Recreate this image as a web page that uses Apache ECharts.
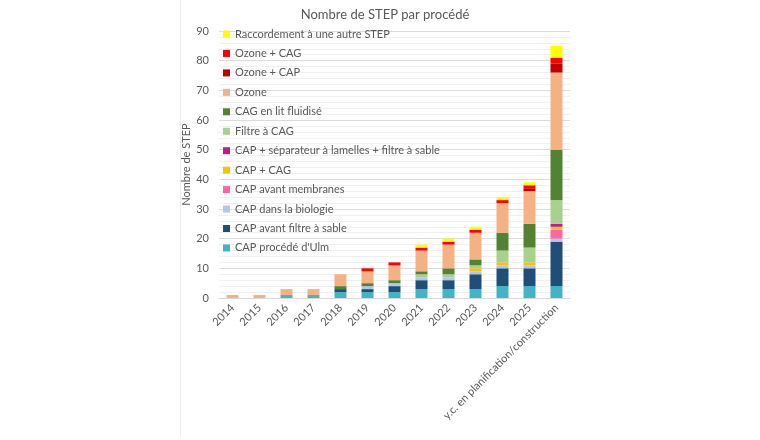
<!DOCTYPE html>
<html>
<head>
<meta charset="utf-8">
<script src="https://cdn.jsdelivr.net/npm/echarts@6/dist/echarts.min.js"></script>
<style>
  html, body { margin: 0; padding: 0; background: #fff; }
  #main { width: 760px; height: 440px; }
</style>
</head>
<body>
<div id="main"></div>
<script>
// catégories (années)
var categories = ['2014', '2015', '2016', '2017', '2018', '2019', '2020', '2021', '2022', '2023', '2024', '2025', 'y.c. en planification/construction'];

// valeurs par procédé (du bas vers le haut de la pile)
var capUlm        = [0, 0, 1, 1, 2, 2, 2, 3, 3, 3, 4, 4, 4];
var capFiltreSable = [0, 0, 0, 0, 1, 1, 2, 3, 3, 5, 6, 6, 15];
var capBiologie   = [0, 0, 0, 0, 0, 1, 1, 1, 1, 1, 1, 1, 1];
var capMembranes  = [0, 0, 0, 0, 0, 0, 0, 0, 0, 0, 0, 0, 3];
var capCag        = [0, 0, 0, 0, 0, 0, 0, 0, 0, 1, 1, 1, 1];
var capSeparateur = [0, 0, 0, 0, 0, 0, 0, 0, 0, 0, 0, 0, 1];
var filtreCag     = [0, 0, 0, 0, 0, 0, 0, 1, 1, 1, 4, 5, 8];
var cagLitFluidise = [0, 0, 0, 0, 1, 1, 1, 1, 2, 2, 6, 8, 17];
var ozone         = [1, 1, 2, 2, 4, 4, 5, 7, 8, 9, 10, 11, 26];
var ozoneCap      = [0, 0, 0, 0, 0, 0, 0, 0, 0, 0, 0, 1, 3];
var ozoneCag      = [0, 0, 0, 0, 0, 1, 1, 1, 1, 1, 1, 1, 2];
var raccordement  = [0, 0, 0, 0, 0, 0, 0, 1, 1, 1, 1, 1, 4];

var yTicks = [0, 10, 20, 30, 40, 50, 60, 70, 80, 90];

var seriesDefs = [
  ["CAP procédé d'Ulm", capUlm, '#3FB5C5'],
  ['CAP avant filtre à sable', capFiltreSable, '#1F4E79'],
  ['CAP dans la biologie', capBiologie, '#B4C7E7'],
  ['CAP avant membranes', capMembranes, '#FF66A3'],
  ['CAP + CAG', capCag, '#FFC000'],
  ['CAP + séparateur à lamelles + filtre à sable', capSeparateur, '#BE1E8C'],
  ['Filtre à CAG', filtreCag, '#A9D18E'],
  ['CAG en lit fluidisé', cagLitFluidise, '#548235'],
  ['Ozone', ozone, '#F4B183'],
  ['Ozone + CAP', ozoneCap, '#C00000'],
  ['Ozone + CAG', ozoneCag, '#FF0000'],
  ['Raccordement à une autre STEP', raccordement, '#FFFF00']
];

var font = 'Lato, "Open Sans", sans-serif';
var textColor = '#595959';

var myChart = echarts.init(document.getElementById('main'));

var option = {
  animation: false,
  backgroundColor: '#fff',
  textStyle: { fontFamily: font },
  title: {
    text: 'Nombre de STEP par procédé',
    left: 380,
    textAlign: 'center',
    top: 3,
    textStyle: { fontFamily: font, fontSize: 13, fontWeight: 'normal', color: textColor }
  },
  graphic: [{
    type: 'line',
    shape: { x1: 180.5, y1: 0, x2: 180.5, y2: 438 },
    style: { stroke: '#EDEDED', lineWidth: 1 },
    silent: true,
    z: -10
  }],
  legend: {
    orient: 'vertical',
    left: 218,
    top: 22,
    itemWidth: 7,
    itemHeight: 7,
    itemGap: 5.45,
    icon: 'rect',
    data: seriesDefs.map(function (d) { return d[0]; }).reverse(),
    textStyle: { fontFamily: font, fontSize: 11, lineHeight: 14, color: textColor, padding: [0, 0, 0, 0] }
  },
  grid: { left: 219, right: 190, top: 31, bottom: 142, containLabel: false },
  xAxis: {
    type: 'category',
    data: categories,
    axisLine: { lineStyle: { color: '#D9D9D9', width: 1 } },
    axisTick: { show: false },
    axisLabel: { rotate: 45, color: textColor, fontSize: 11, fontFamily: font, margin: 8, interval: 0 }
  },
  yAxis: {
    type: 'value',
    min: yTicks[0],
    max: yTicks[yTicks.length - 1],
    interval: 10,
    name: 'Nombre de STEP',
    nameLocation: 'middle',
    nameGap: 24,
    nameTextStyle: { color: textColor, fontSize: 11, fontFamily: font },
    axisLine: { show: false },
    axisTick: { show: false },
    axisLabel: { color: textColor, fontSize: 11, fontFamily: font, margin: 10 },
    splitLine: { lineStyle: { color: '#DCDCDC', width: 1 } },
    minorTick: { show: false, splitNumber: 5 },
    minorSplitLine: { show: true, lineStyle: { color: '#F0F0F0', width: 1 } }
  },
  series: seriesDefs.map(function (d) {
    return {
      name: d[0],
      type: 'bar',
      stack: 'total',
      barWidth: 12,
      data: d[1],
      itemStyle: { color: d[2] }
    };
  })
};

myChart.setOption(option);
</script>
</body>
</html>
